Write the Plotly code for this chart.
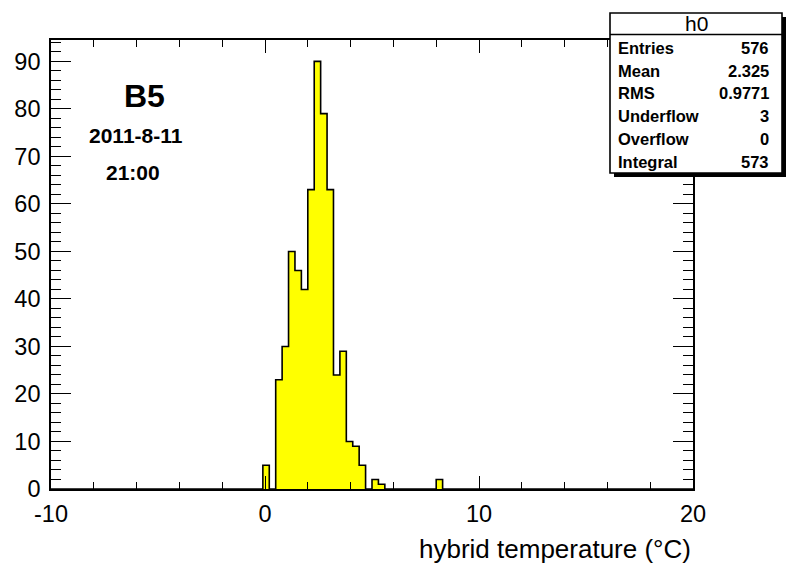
import numpy as np
import plotly.graph_objects as go

# ---------------- data ----------------
x_min, x_max, n_bins = -10.0, 20.0, 100
first_bin = 33  # index of the first listed bin (lower edge -0.1)
bin_counts = [5, 0, 23, 30, 50, 46, 42, 63, 90, 79, 63, 24, 29, 10, 9, 5, 0,
              2, 1, 0, 0, 0, 0, 0, 0, 0, 0, 2]

y_max = 94.5
x_tick_vals = [-10, 0, 10, 20]
x_tick_text = ["-10", "0", "10", "20"]
hist_name = "h0"
stats_names = ["Entries", "Mean", "RMS", "Underflow", "Overflow", "Integral"]
stats_values = ["576", "2.325", "0.9771", "3", "0", "573"]
text_labels = ["B5", "2011-8-11", "21:00"]
x_title = "hybrid temperature (°C)"

# ---------------- layout geometry (pixels) ----------------
W, H = 787, 565
L, R, T, B = 51, 94, 40, 76
PW, PH = W - L - R, H - T - B


def px(x):
    return (x - L) / PW


def py(y):
    return (H - B - y) / PH


counts = np.zeros(n_bins)
counts[first_bin:first_bin + len(bin_counts)] = bin_counts
edges = np.linspace(x_min, x_max, n_bins + 1)
y_step = np.append(counts, counts[-1])

FONT = "Liberation Sans, Arial, sans-serif"

fig = go.Figure()
fig.add_trace(go.Scatter(
    x=edges, y=y_step, mode="lines",
    line=dict(shape="hv", color="black", width=1.6),
    fill="tozeroy", fillcolor="#ffff00",
    showlegend=False, hoverinfo="skip",
))

axis_common = dict(
    showline=True, linecolor="black", linewidth=1.6, mirror="allticks",
    ticks="inside", tickcolor="black", tickwidth=1.4,
    showgrid=False, zeroline=False,
    tickfont=dict(family=FONT, size=23.5, color="black"),
)

fig.update_layout(
    width=W, height=H,
    margin=dict(l=L, r=R, t=T, b=B),
    paper_bgcolor="white", plot_bgcolor="white",
    xaxis=dict(range=[x_min, x_max], tickmode="array",
               tickvals=x_tick_vals, ticktext=x_tick_text, ticklen=13,
               minor=dict(dtick=2, tick0=-10, ticks="inside", ticklen=7,
                          tickcolor="black", tickwidth=1.4),
               ticklabelstandoff=3,
               **axis_common),
    yaxis=dict(range=[0, y_max], tick0=0, dtick=10, ticklen=20,
               minor=dict(dtick=2, ticks="inside", ticklen=10,
                          tickcolor="black", tickwidth=1.4),
               ticklabelstandoff=4,
               **axis_common),
)

# ---------------- stats box ----------------
bx0, bx1, by0, by1 = 610, 782, 13, 173
sh = 4
fig.add_shape(type="rect", xref="paper", yref="paper", layer="above",
              x0=px(bx0 + sh), x1=px(bx1 + sh), y0=py(by0 + sh), y1=py(by1 + sh),
              fillcolor="black", line=dict(width=0))
fig.add_shape(type="rect", xref="paper", yref="paper", layer="above",
              x0=px(bx0), x1=px(bx1), y0=py(by0), y1=py(by1),
              fillcolor="white", line=dict(color="black", width=1.6))
fig.add_shape(type="line", xref="paper", yref="paper", layer="above",
              x0=px(bx0), x1=px(bx1), y0=py(34.5), y1=py(34.5),
              line=dict(color="black", width=1.6))

fig.add_annotation(x=px((bx0 + bx1) / 2), y=py(23.5), xref="paper", yref="paper",
                   text=hist_name, showarrow=False, xanchor="center", yanchor="middle",
                   font=dict(family=FONT, size=21, color="black"))
row_y0, row_dy = 48, 22.7
for i, (n, v) in enumerate(zip(stats_names, stats_values)):
    yy = row_y0 + i * row_dy
    fig.add_annotation(x=px(616), y=py(yy), xref="paper", yref="paper",
                       text="<b>%s</b>" % n, showarrow=False,
                       xanchor="left", yanchor="middle",
                       font=dict(family=FONT, size=16.5, color="black"))
    fig.add_annotation(x=px(771), y=py(yy), xref="paper", yref="paper",
                       text="<b>%s</b>" % v, showarrow=False,
                       xanchor="right", yanchor="middle",
                       font=dict(family=FONT, size=16.5, color="black"))

# ---------------- labels ----------------
label_pos = [(144, 96, 32), (136, 135, 21), (133, 173, 21)]
for t, (lx, ly, fs) in zip(text_labels, label_pos):
    fig.add_annotation(x=px(lx), y=py(ly), xref="paper", yref="paper",
                       text="<b>%s</b>" % t, showarrow=False,
                       xanchor="center", yanchor="middle",
                       font=dict(family=FONT, size=fs, color="black"))

fig.add_annotation(x=1.0, y=py(549), xref="paper", yref="paper",
                   text=x_title, showarrow=False, xanchor="right", yanchor="middle",
                   font=dict(family=FONT, size=26, color="black"))

fig.write_html("out.html")
